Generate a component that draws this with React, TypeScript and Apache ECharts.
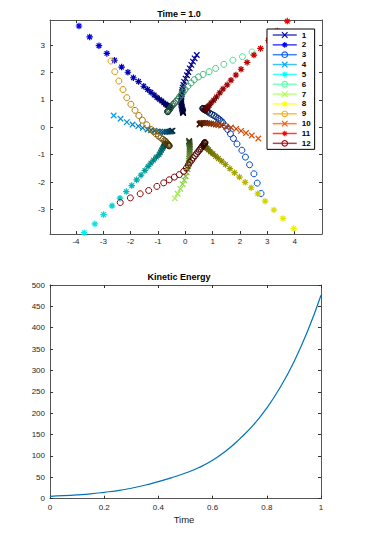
import React, { useEffect, useRef } from "react";
import * as echarts from "echarts";

const FONT = '"Liberation Sans", Arial, Helvetica, sans-serif';

const seriesNames = ["1", "2", "3", "4", "5", "6", "7", "8", "9", "10", "11", "12"];
const seriesColors = ["#0000aa", "#0000ff", "#0055ff", "#00aaff", "#00ffff", "#55ffaa", "#aaff55", "#ffff00", "#ffaa00", "#ff5500", "#ff0000", "#aa0000"];
const markerKinds = ["x", "star", "o", "x", "star", "o", "x", "star", "o", "x", "star", "o"];

const traj1 = [[-0.08, 0.52], [-0.085, 0.54], [-0.09, 0.56], [-0.095, 0.59], [-0.1, 0.62], [-0.11, 0.66], [-0.12, 0.7], [-0.13, 0.75], [-0.14, 0.8], [-0.15, 0.86], [-0.15, 0.92], [-0.15, 0.98], [-0.15, 1.05], [-0.14, 1.12], [-0.13, 1.2], [-0.12, 1.28], [-0.11, 1.36], [-0.09, 1.45], [-0.07, 1.55], [-0.04, 1.66], [0.01, 1.78], [0.06, 1.9], [0.11, 2.02], [0.16, 2.15], [0.22, 2.28], [0.28, 2.4], [0.34, 2.52], [0.42, 2.64]];
const traj2 = [[-0.55, 0.72], [-0.56, 0.73], [-0.57, 0.74], [-0.59, 0.75], [-0.61, 0.77], [-0.64, 0.79], [-0.68, 0.81], [-0.72, 0.84], [-0.79, 0.89], [-0.86, 0.96], [-0.95, 1.02], [-1.04, 1.09], [-1.14, 1.18], [-1.26, 1.28], [-1.38, 1.38], [-1.52, 1.5], [-1.71, 1.67], [-1.9, 1.81], [-2.1, 2.01], [-2.33, 2.2], [-2.59, 2.45], [-2.87, 2.7], [-3.16, 2.98], [-3.5, 3.3], [-3.89, 3.7]];
const traj3 = [[0.64, 0.69], [0.65, 0.685], [0.67, 0.675], [0.7, 0.66], [0.74, 0.63], [0.78, 0.6], [0.82, 0.57], [0.89, 0.52], [0.97, 0.47], [1.05, 0.43], [1.12, 0.38], [1.19, 0.33], [1.25, 0.28], [1.31, 0.23], [1.37, 0.17], [1.46, 0.05], [1.55, -0.08], [1.65, -0.24], [1.76, -0.41], [1.89, -0.61], [2.07, -0.84], [2.2, -1.09], [2.35, -1.37], [2.51, -1.7], [2.63, -2.04], [2.77, -2.42]];
const traj4 = [[-0.47, -0.12], [-0.48, -0.13], [-0.5, -0.14], [-0.53, -0.15], [-0.57, -0.16], [-0.62, -0.16], [-0.68, -0.17], [-0.75, -0.17], [-0.83, -0.17], [-0.92, -0.16], [-1.02, -0.15], [-1.13, -0.13], [-1.25, -0.11], [-1.38, -0.08], [-1.56, -0.02], [-1.72, 0.04], [-1.93, 0.1], [-2.14, 0.19], [-2.37, 0.31], [-2.62, 0.43]];
const traj5 = [[-0.73, -0.6], [-0.74, -0.61], [-0.75, -0.63], [-0.76, -0.65], [-0.78, -0.68], [-0.8, -0.72], [-0.83, -0.77], [-0.87, -0.83], [-0.91, -0.91], [-0.96, -1.0], [-1.06, -1.09], [-1.16, -1.2], [-1.26, -1.31], [-1.36, -1.43], [-1.48, -1.58], [-1.62, -1.75], [-1.78, -1.92], [-1.96, -2.13], [-2.16, -2.35], [-2.39, -2.59], [-2.68, -2.87], [-2.99, -3.19], [-3.31, -3.53], [-3.7, -3.85]];
const traj6 = [[-0.65, 0.57], [-0.64, 0.58], [-0.62, 0.6], [-0.6, 0.63], [-0.57, 0.67], [-0.53, 0.72], [-0.49, 0.78], [-0.44, 0.84], [-0.39, 0.89], [-0.33, 0.95], [-0.27, 1.03], [-0.21, 1.11], [-0.15, 1.19], [-0.08, 1.28], [-0.01, 1.38], [0.09, 1.5], [0.21, 1.62], [0.33, 1.74], [0.48, 1.84], [0.65, 1.93], [0.87, 2.03], [1.11, 2.15], [1.41, 2.3], [1.74, 2.45], [2.09, 2.58], [2.44, 2.75]];
const traj7 = [[0.14, -0.5], [0.14, -0.52], [0.15, -0.55], [0.15, -0.58], [0.16, -0.62], [0.16, -0.67], [0.16, -0.72], [0.16, -0.78], [0.16, -0.84], [0.16, -0.91], [0.15, -0.98], [0.15, -1.06], [0.14, -1.14], [0.13, -1.23], [0.12, -1.32], [0.1, -1.42], [0.08, -1.53], [0.05, -1.65], [0.01, -1.79], [-0.04, -1.93], [-0.1, -2.08], [-0.18, -2.25], [-0.28, -2.43], [-0.38, -2.6]];
const traj8 = [[0.67, -0.66], [0.68, -0.67], [0.69, -0.68], [0.71, -0.7], [0.73, -0.72], [0.76, -0.74], [0.8, -0.77], [0.85, -0.82], [0.92, -0.9], [1.01, -0.97], [1.11, -1.06], [1.21, -1.14], [1.33, -1.24], [1.47, -1.36], [1.63, -1.51], [1.8, -1.66], [1.98, -1.82], [2.19, -2.01], [2.41, -2.21], [2.65, -2.43], [2.92, -2.7], [3.24, -3.02], [3.57, -3.33], [3.97, -3.7]];
const traj9 = [[-0.59, -0.68], [-0.6, -0.67], [-0.61, -0.66], [-0.63, -0.64], [-0.65, -0.61], [-0.68, -0.57], [-0.71, -0.53], [-0.76, -0.49], [-0.82, -0.44], [-0.89, -0.39], [-0.98, -0.32], [-1.07, -0.24], [-1.16, -0.16], [-1.26, -0.08], [-1.41, 0.09], [-1.57, 0.26], [-1.7, 0.43], [-1.84, 0.62], [-1.99, 0.84], [-2.14, 1.08], [-2.28, 1.38], [-2.43, 1.69], [-2.58, 2.03], [-2.72, 2.42]];
const traj10 = [[0.52, 0.1], [0.53, 0.12], [0.55, 0.14], [0.58, 0.15], [0.62, 0.16], [0.67, 0.16], [0.73, 0.16], [0.8, 0.15], [0.87, 0.14], [0.94, 0.13], [1.03, 0.12], [1.12, 0.1], [1.21, 0.08], [1.31, 0.06], [1.49, 0.02], [1.67, -0.01], [1.86, -0.06], [2.04, -0.13], [2.22, -0.21], [2.43, -0.3], [2.67, -0.41]];
const traj11 = [[0.72, 0.62], [0.72, 0.63], [0.73, 0.64], [0.74, 0.66], [0.75, 0.68], [0.77, 0.7], [0.79, 0.72], [0.83, 0.75], [0.87, 0.79], [0.94, 0.89], [1.04, 0.99], [1.14, 1.11], [1.26, 1.26], [1.38, 1.4], [1.53, 1.55], [1.67, 1.72], [1.85, 1.91], [2.04, 2.12], [2.26, 2.37], [2.51, 2.64], [2.75, 2.88], [3.04, 3.18], [3.36, 3.52], [3.73, 3.88]];
const traj12 = [[0.72, -0.56], [0.71, -0.57], [0.7, -0.58], [0.69, -0.6], [0.67, -0.63], [0.64, -0.67], [0.6, -0.72], [0.56, -0.78], [0.51, -0.84], [0.46, -0.9], [0.41, -0.97], [0.35, -1.04], [0.29, -1.12], [0.23, -1.2], [0.17, -1.28], [0.11, -1.38], [0.04, -1.49], [-0.06, -1.61], [-0.22, -1.73], [-0.4, -1.82], [-0.59, -1.92], [-0.79, -2.03], [-1.04, -2.16], [-1.34, -2.31], [-1.65, -2.43], [-2.01, -2.58], [-2.38, -2.75]];

const trajectories = [traj1, traj2, traj3, traj4, traj5, traj6, traj7, traj8, traj9, traj10, traj11, traj12];

const topXTicks = [-4, -3, -2, -1, 0, 1, 2, 3, 4];
const topYTicks = [-3, -2, -1, 0, 1, 2, 3];

const keTime = [0, 0.05, 0.1, 0.15, 0.2, 0.25, 0.3, 0.35, 0.4, 0.45, 0.5, 0.55, 0.6, 0.65, 0.7, 0.75, 0.8, 0.85, 0.9, 0.95, 1];
const keValues = [5.5, 7, 9, 11.5, 15, 19, 24.5, 31.5, 40, 49.5, 60, 73, 90, 112, 140, 172, 212, 261, 320, 391, 476];

const SYMBOLS: Record<string, string> = {
  x: "path://M0,0L10,10M10,0L0,10",
  star: "path://M5,0L5,10M0,5L10,5M1.5,1.5L8.5,8.5M8.5,1.5L1.5,8.5",
  o: "circle",
};
const SIZES: Record<string, number> = { x: 5.5, star: 6.5, o: 6 };

function shade(hex: string, f: number): string {
  const r = parseInt(hex.slice(1, 3), 16);
  const g = parseInt(hex.slice(3, 5), 16);
  const b = parseInt(hex.slice(5, 7), 16);
  return `rgb(${Math.round(r * f)},${Math.round(g * f)},${Math.round(b * f)})`;
}

const FRAME = "#555";
const TICK = "#333";
const LABEL = "#262626";

function frameAxis(gridIndex: number, position: string, min: number, max: number, showLabel: boolean, ticks: any, labelMargin: number) {
  const a: any = {
    type: "value",
    gridIndex,
    position,
    min,
    max,
    axisLine: { show: true, onZero: false, lineStyle: { color: FRAME, width: 1 } },
    axisTick: { show: true, inside: true, length: 3, lineStyle: { color: TICK, width: 1 } },
    axisLabel: { show: showLabel, margin: labelMargin, fontSize: 8, color: LABEL, fontFamily: FONT },
    splitLine: { show: false },
  };
  if (Array.isArray(ticks)) {
    a.axisTick.customValues = ticks;
    a.axisLabel.customValues = ticks;
  } else {
    a.interval = ticks;
  }
  return a;
}

export default function App() {
  const ref = useRef<HTMLDivElement>(null);
  useEffect(() => {
    if (!ref.current) return;
    const chart = echarts.init(ref.current, null, { renderer: "svg" });

    const trajSeries = trajectories.map((pts, k) => {
      const kind = markerKinds[k];
      const base = seriesColors[k];
      const n = pts.length;
      return {
        name: seriesNames[k],
        type: "line",
        xAxisIndex: 0,
        yAxisIndex: 0,
        data: pts.map((p, i) => ({
          value: p,
          itemStyle: { borderColor: shade(base, 0.22 + 0.72 * Math.pow(i / (n - 1), 1.2)) },
        })),
        symbol: SYMBOLS[kind],
        symbolSize: SIZES[kind],
        symbolKeepAspect: true,
        showSymbol: true,
        showAllSymbol: true,
        clip: false,
        silent: true,
        lineStyle: { width: 0, color: base },
        itemStyle: { color: "transparent", borderColor: base, borderWidth: kind === "o" ? 1 : 1.2 },
        emphasis: { disabled: true },
      };
    });

    const option: any = {
      animation: false,
      backgroundColor: "#fff",
      textStyle: { fontFamily: FONT },
      grid: [
        { left: 50, top: 20, width: 272, height: 214 },
        { left: 50, top: 285, width: 271, height: 213.7 },
      ],
      xAxis: [
        frameAxis(0, "bottom", -4.95, 5.0, true, topXTicks, 3),
        frameAxis(0, "top", -4.95, 5.0, false, topXTicks, 3),
        frameAxis(1, "bottom", 0, 1, true, 0.2, 5),
        frameAxis(1, "top", 0, 1, false, 0.2, 5),
      ],
      yAxis: [
        frameAxis(0, "left", -3.9, 3.92, true, topYTicks, 5),
        frameAxis(0, "right", -3.9, 3.92, false, topYTicks, 5),
        frameAxis(1, "left", 0, 500, true, 50, 5),
        frameAxis(1, "right", 0, 500, false, 50, 5),
      ],
      legend: {
        data: seriesNames,
        orient: "vertical",
        left: 267,
        top: 29,
        padding: [2, 4, 2, 5],
        itemWidth: 24,
        itemHeight: 7,
        itemGap: 1.85,
        backgroundColor: "#fff",
        borderColor: "#000",
        borderWidth: 1,
        borderRadius: 0,
        selectedMode: false,
        textStyle: { fontSize: 8, fontWeight: "bold", color: "#000", fontFamily: FONT, lineHeight: 8, padding: 0 },
        lineStyle: { width: 1.5, opacity: 0.75 },
        itemStyle: { borderWidth: 1.1 },
      },
      graphic: [
        {
          type: "text",
          x: 179,
          y: 14,
          style: {
            text: "Time = 1.0",
            font: `bold 9px ${FONT}`,
            fill: "#000",
            align: "center",
            verticalAlign: "middle",
            textAlign: "center",
            textVerticalAlign: "middle",
          },
        },
        {
          type: "text",
          x: 179,
          y: 277,
          style: {
            text: "Kinetic Energy",
            font: `bold 9px ${FONT}`,
            fill: "#000",
            align: "center",
            verticalAlign: "middle",
            textAlign: "center",
            textVerticalAlign: "middle",
          },
        },
        {
          type: "text",
          x: 184,
          y: 519,
          style: {
            text: "Time",
            font: `9.5px ${FONT}`,
            fill: "#222",
            align: "center",
            verticalAlign: "middle",
            textAlign: "center",
            textVerticalAlign: "middle",
          },
        },
      ],
      series: [
        ...trajSeries,
        {
          name: "KE",
          type: "line",
          xAxisIndex: 2,
          yAxisIndex: 2,
          data: keTime.map((t, i) => [t, keValues[i]]),
          smooth: 0.5,
          showSymbol: false,
          silent: true,
          lineStyle: { color: "#0072bd", width: 1.2 },
        },
      ],
    };
    chart.setOption(option);
    return () => chart.dispose();
  }, []);
  return (
    <div
      ref={ref}
      style={{ position: "absolute", left: 0, top: 0, width: 371, height: 537, background: "#fff" }}
    />
  );
}
